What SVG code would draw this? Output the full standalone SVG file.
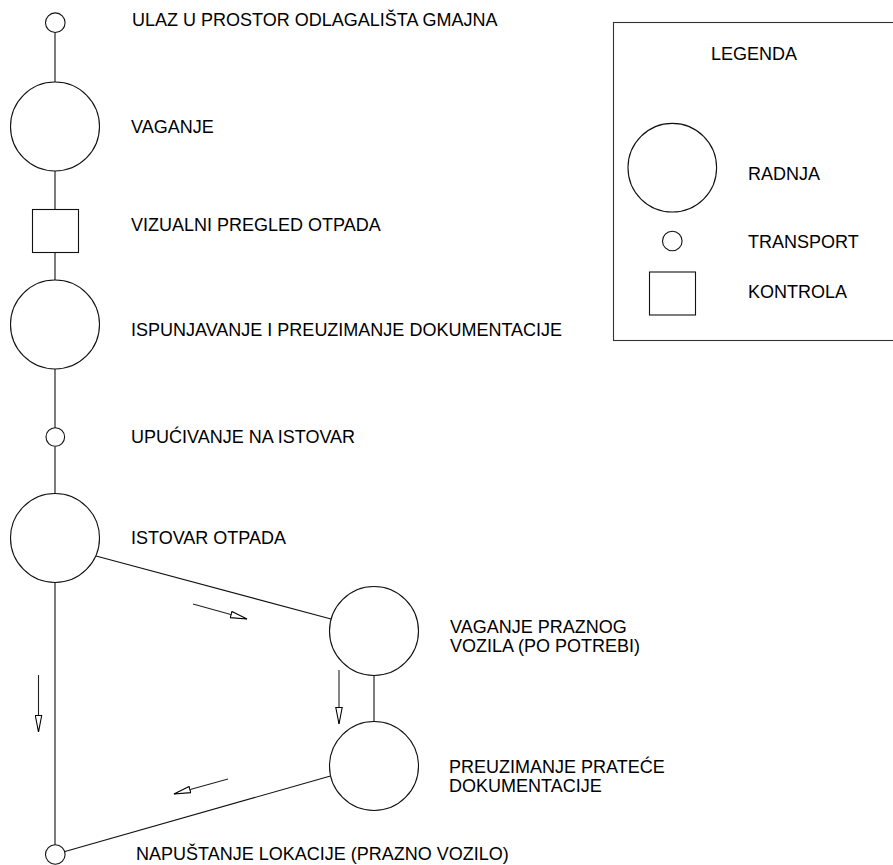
<svg xmlns="http://www.w3.org/2000/svg" width="893" height="865" viewBox="0 0 893 865">
<style>
.s{fill:#fff;stroke:#111;stroke-width:1.1}
.c{fill:none;stroke:#111;stroke-width:1.1}
.a{fill:none;stroke:#222;stroke-width:1.1;marker-end:url(#ah)}
text{font-family:"Liberation Sans",Arial,sans-serif;font-size:18px;fill:#000}
</style>
<defs>
<marker id="ah" viewBox="0 0 18 8" refX="17" refY="4" markerWidth="18" markerHeight="8" markerUnits="userSpaceOnUse" orient="auto">
<path d="M0.5,0.8 L17,4 L0.5,7.2 Z" fill="#fff" stroke="#000" stroke-width="1.1"/>
</marker>
</defs>
<rect width="893" height="865" fill="#fff"/>
<g id="connectors">
<line class="c" x1="55" y1="32.5" x2="55" y2="82"/>
<line class="c" x1="55" y1="171" x2="55" y2="209.5"/>
<line class="c" x1="55" y1="252.5" x2="55" y2="280"/>
<line class="c" x1="55" y1="369" x2="55" y2="428"/>
<line class="c" x1="55" y1="446.5" x2="55" y2="493.5"/>
<line class="c" x1="55" y1="582.5" x2="55" y2="845"/>
<line class="c" x1="96" y1="556" x2="331" y2="619"/>
<line class="c" x1="374" y1="675.5" x2="374" y2="721.5"/>
<line class="c" x1="330.5" y1="776" x2="65" y2="851.5"/>
<line class="a" x1="193" y1="604" x2="247" y2="619"/>
<line class="a" x1="339" y1="670" x2="339" y2="724"/>
<line class="a" x1="38.5" y1="675" x2="38.5" y2="732"/>
<line class="a" x1="228" y1="779" x2="174" y2="794"/>
</g>
<g id="n1"><circle class="s" cx="55.3" cy="22.7" r="9.8"/><text x="132" y="26">ULAZ U PROSTOR ODLAGALIŠTA GMAJNA</text></g>
<g id="n2"><circle class="s" cx="55" cy="126.5" r="44.5"/><text x="131" y="133">VAGANJE</text></g>
<g id="n3"><rect class="s" x="32.5" y="209.5" width="46" height="43"/><text x="131" y="231">VIZUALNI PREGLED OTPADA</text></g>
<g id="n4"><circle class="s" cx="55" cy="324.5" r="44.5"/><text x="131" y="336">ISPUNJAVANJE I PREUZIMANJE DOKUMENTACIJE</text></g>
<g id="n5"><circle class="s" cx="55.3" cy="437" r="9.3"/><text x="131" y="443">UPUĆIVANJE NA ISTOVAR</text></g>
<g id="n6"><circle class="s" cx="55" cy="538" r="44.5"/><text x="131" y="544">ISTOVAR OTPADA</text></g>
<g id="n7"><circle class="s" cx="374" cy="631" r="44.5"/><text x="450" y="633">VAGANJE PRAZNOG</text><text x="450" y="652">VOZILA (PO POTREBI)</text></g>
<g id="n8"><circle class="s" cx="374" cy="766" r="44.5"/><text x="449" y="773">PREUZIMANJE PRATEĆE</text><text x="449" y="792">DOKUMENTACIJE</text></g>
<g id="n9"><circle class="s" cx="55.3" cy="854.5" r="9.8"/><text x="136" y="860">NAPUŠTANJE LOKACIJE (PRAZNO VOZILO)</text></g>
<g id="legend">
<rect x="613.5" y="22.5" width="290" height="318" fill="none" stroke="#333" stroke-width="1.1"/>
<text x="711" y="60">LEGENDA</text>
<circle class="s" cx="672.3" cy="167.7" r="44.3"/><text x="748" y="180">RADNJA</text>
<circle class="s" cx="672.3" cy="241" r="9.8"/><text x="748" y="248">TRANSPORT</text>
<rect class="s" x="649.5" y="272" width="46" height="43"/><text x="748" y="298">KONTROLA</text>
</g>
</svg>
